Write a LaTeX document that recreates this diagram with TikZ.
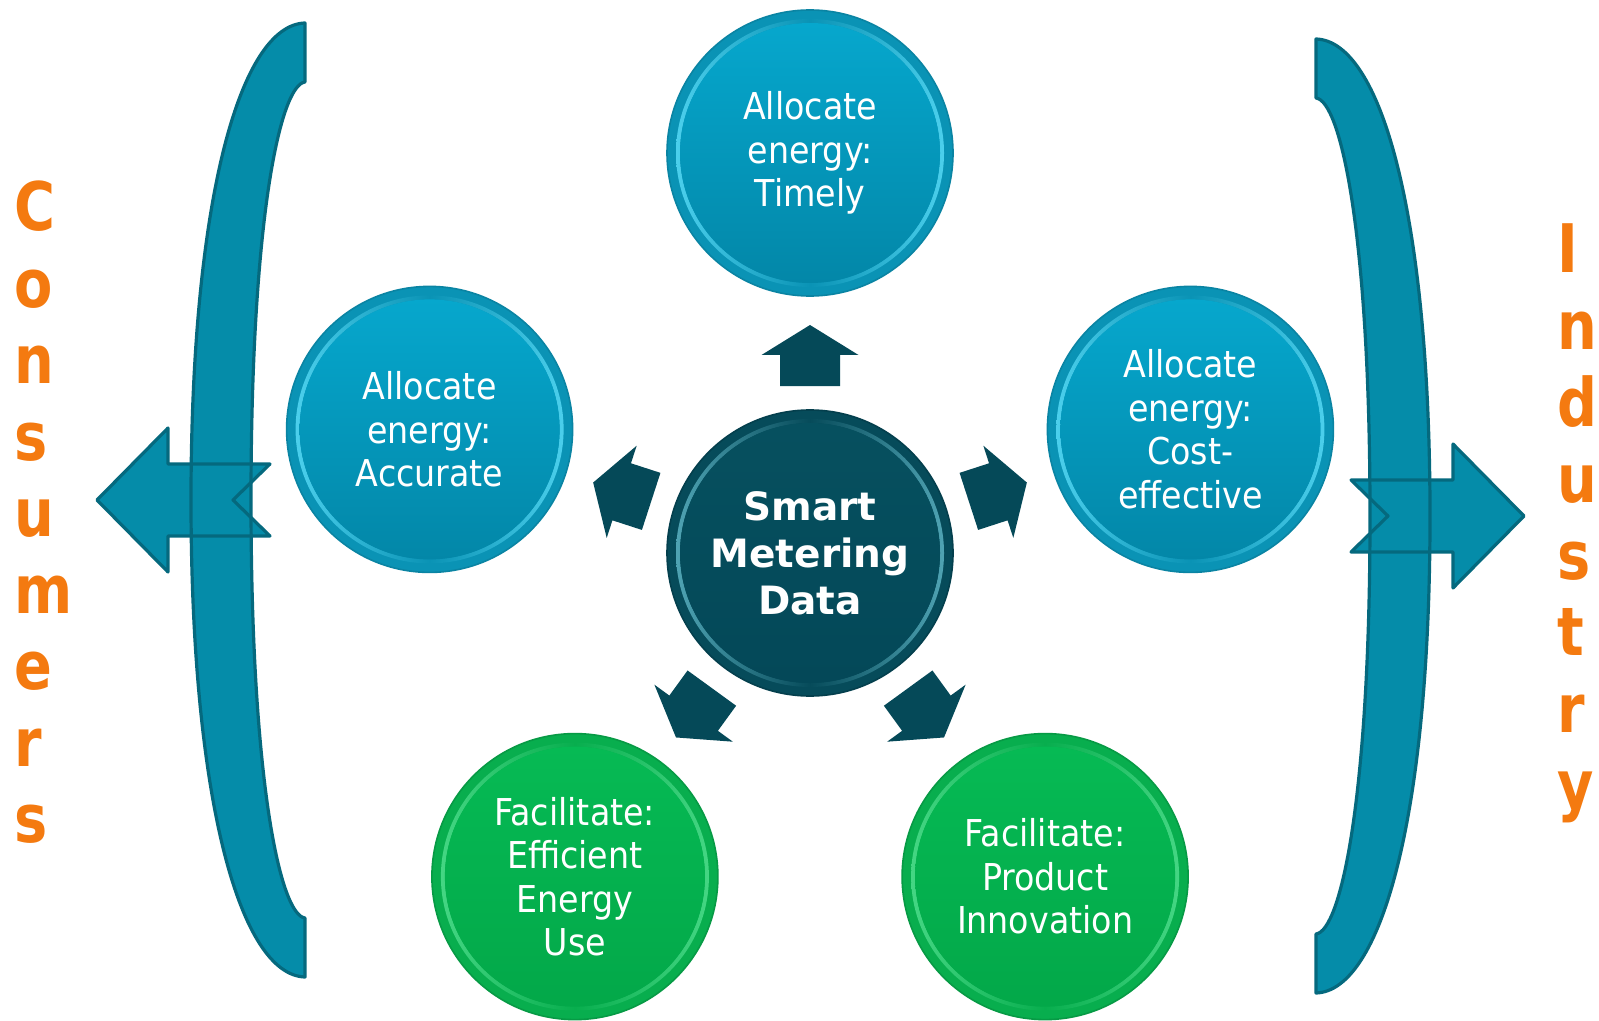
\documentclass[tikz,border=0pt]{standalone}
\usepackage{fontspec}
\setmainfont{DejaVu Sans}
\newfontfamily\circfont{DejaVu Sans Condensed}
\newfontfamily\hdfont{DejaVu Sans}
\usetikzlibrary{calc}
\definecolor{bracketfill}{HTML}{058CA9}
\definecolor{bracketline}{HTML}{05697E}
\definecolor{darkarrow}{HTML}{054958}
\definecolor{orangetxt}{HTML}{F47A10}
\definecolor{blueRim}{HTML}{0A93B5}
\definecolor{blueHL}{HTML}{4BCFEC}
\definecolor{blueTop}{HTML}{06A7CD}
\definecolor{blueBot}{HTML}{0387A8}
\definecolor{blueEdge}{HTML}{0A84A3}
\definecolor{greenRim}{HTML}{08AE4E}
\definecolor{greenHL}{HTML}{44D683}
\definecolor{greenTop}{HTML}{06BA54}
\definecolor{greenBot}{HTML}{03A849}
\definecolor{greenEdge}{HTML}{079A45}
\definecolor{darkRim}{HTML}{064B5A}
\definecolor{darkHL}{HTML}{4FA3B3}
\definecolor{darkTop}{HTML}{06505F}
\definecolor{darkBot}{HTML}{044858}
\definecolor{darkEdge}{HTML}{043F4D}
\newcommand\bracketpath{(305,23) -- (305,82) .. controls (280,85) and (251,220) .. (251,500) .. controls (251,780) and (280,915) .. (305,918) -- (305,977) .. controls (240,975) and (191,800) .. (191,500) .. controls (191,200) and (240,25) .. (305,23) -- cycle}
\newcommand\bigarrowpath{(97,500) -- (168,428) -- (168,464) -- (270,464) -- (233,500) -- (270,536) -- (168,536) -- (168,572) -- cycle}
\newcommand\smallarrowpath{(0,-228) -- (48.5,-198) -- (30,-198) -- (30,-167) -- (-30,-167) -- (-30,-198) -- (-48.5,-198) -- cycle}
\newcommand\bubble[4]{%
  \fill[#2Rim] #1 circle[radius=143];
  \shade[even odd rule, left color=#2HL, right color=#2HL, middle color=#2Rim] #1 circle[radius=134] #1 circle[radius=130];
  \shade[top color=#2Top, bottom color=#2Bot] #1 circle[radius=130];
  \draw[#2Edge, line width=0.8pt] #1 circle[radius=143];
  \node[bubtext] (#3) at #1 {#4};}
\tikzset{
  bubtext/.style={align=center, text=white, inner sep=0pt, font=\circfont\fontsize{18.5}{21.75}\selectfont},
  centertext/.style={align=center, text=white, inner sep=0pt, font=\hdfont\bfseries\fontsize{19.5}{23.5}\selectfont},
  sideletter/.style={anchor=base west, inner sep=0pt, text=orangetxt, font=\hdfont\bfseries\fontsize{31}{31}\selectfont},
  shapefill/.style={fill=bracketfill},
  shapeline/.style={draw=bracketline, line width=1.6pt, line join=round},
}
\begin{document}
\begin{tikzpicture}[x=0.5pt,y=-0.5pt]
\fill[white] (0,0) rectangle (1599,1021);
\useasboundingbox (0,0) rectangle (1599,1021);
% left bracket and arrow
\fill[shapefill] \bracketpath;
\fill[shapefill] \bigarrowpath;
\draw[shapeline] \bracketpath;
\draw[shapeline] \bigarrowpath;
% right bracket and arrow (mirrored)
\begin{scope}[shift={(1621,16)}, xscale=-1]
\fill[shapefill] \bracketpath;
\fill[shapefill] \bigarrowpath;
\draw[shapeline] \bracketpath;
\draw[shapeline] \bigarrowpath;
\end{scope}
% small arrows around centre
\foreach \a in {0,72,-72,144,-144}
  \fill[darkarrow, shift={(810,553)}, rotate=\a] \smallarrowpath;
% bubbles
\bubble{(810,553)}{dark}{center}{}
\node[centertext] (centertxt) at (810,553) {Smart\\Metering\\Data};
\bubble{(810,153)}{blue}{timely}{Allocate\\energy:\\Timely}
\bubble{(429.6,429.4)}{blue}{accurate}{Allocate\\energy:\\Accurate}
\bubble{(1190.4,429.4)}{blue}{costeff}{Allocate\\energy:\\Cost-\\effective}
\bubble{(574.9,876.6)}{green}{efficient}{Facilitate:\\Efficient\\Energy\\Use}
\bubble{(1045.1,876.6)}{green}{product}{Facilitate:\\Product\\Innovation}
% side words
\foreach \l [count=\i] in {C,o,n,s,u,m,e,r,s}
  \node[sideletter] (cons\i) at (14,{230.5+76.5*(\i-1)}) {\scalebox{0.9}[1.08]{\l}};
\foreach \l [count=\i] in {I,n,d,u,s,t,r,y}
  \node[sideletter] (ind\i) at (1557,{273+76.5*(\i-1)}) {\scalebox{0.9}[1.08]{\l}};
\end{tikzpicture}
\end{document}
